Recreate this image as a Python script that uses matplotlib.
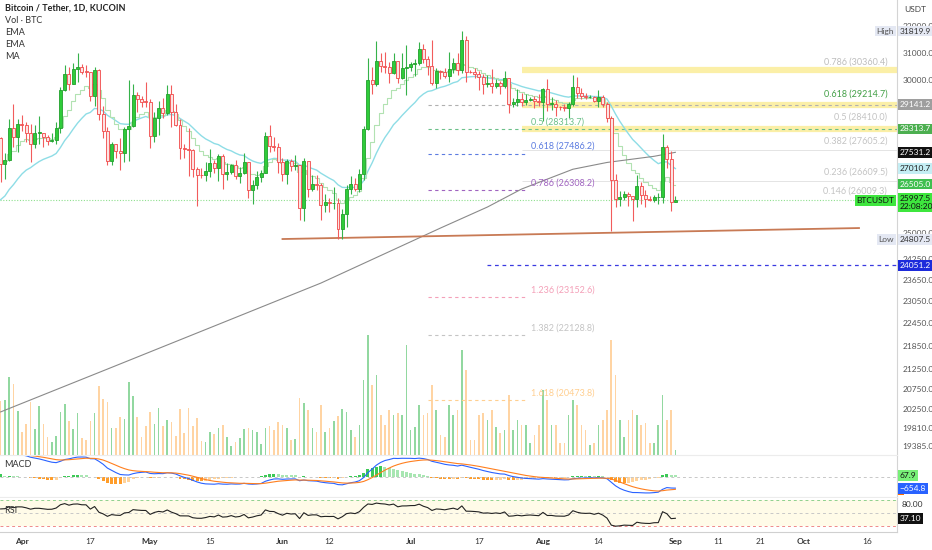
import numpy as np
import pandas as pd
import matplotlib
matplotlib.use('Agg')
import matplotlib.pyplot as plt

plt.rcParams['font.family'] = ['Lato', 'DejaVu Sans']

# BTC/USDT 1D (KuCoin). Jan 1 .. Mar 26 2023 closes only warm up the indicators
warmup_close = [16610, 16680, 16670, 16850, 16830, 16950, 16940, 17120, 17180, 17440,
                17940, 18850, 19930, 20950, 20870, 21190, 21140, 20680, 21070, 22670,
                22780, 22710, 22920, 22630, 23060, 23010, 23080, 23030, 23740, 22830, 23130,
                23730, 23490, 23430, 23330, 22930, 22760, 23260, 22960, 21800, 21630,
                21860, 21780, 21790, 22200, 24330, 23530, 24570, 24630, 24280, 24840,
                24440, 24180, 23940, 23180, 23160, 23560, 23490, 23140,
                23630, 23470, 22360, 22350, 22430, 22410, 22200, 21700, 20360, 20190,
                20630, 22160, 24200, 24750, 24380, 25050, 27420, 26970, 28040, 27770,
                28170, 27300, 28330, 27480, 27490, 27990]

start_date = '2023-03-27'
close = [27140, 27270, 28350, 28030, 28470,
         28450, 28190, 27800, 28170, 28170, 28030, 27910, 27950, 28330, 29650,
         30230, 29890, 30400, 30480, 30320, 30310, 29430, 30390, 28820, 28240,
         27260, 27820, 27590, 27510, 28300, 28420, 29470, 29340, 29250, 29230,
         28070, 28680, 29030, 28850, 29530, 28900, 28430, 27660, 27630, 27620,
         26990, 26800, 26780, 26930, 27170, 27030, 27400, 26830, 26890, 27120,
         26750, 26850, 27220, 26330, 26480, 26720, 26870, 28080, 27740, 27700, 27220,
         26820, 27250, 27070, 27120, 25760, 27240, 26340, 26500, 26480, 25850,
         25940, 25900, 25920, 25120, 25580, 26340, 26510, 26340, 26840, 28310,
         30000, 29890, 30690, 30540, 30470, 30270, 30690, 30080, 30450, 30470,
         30590, 30620, 31160, 30770, 30510, 29900, 30350, 30290, 30170, 30410,
         30620, 30380, 31470, 30310, 30290, 30230, 30140, 29860, 29910, 29800,
         29900, 29790, 30080, 29180, 29230, 29350, 29220, 29310, 29350, 29280, 29230,
         29700, 29170, 29180, 29070, 29050, 29040, 29180, 29770, 29560, 29430,
         29400, 29420, 29280, 29410, 29170, 28700, 26620, 26050, 26100, 26190,
         26120, 26040, 26430, 26160, 26050, 26010, 26090, 26100, 27720, 27300, 25930,
         25997.5]
high = [28040, 27500, 28650, 29180, 28650,
        28800, 28530, 28490, 28440, 28750, 28190, 28100, 28170, 28530, 29770,
        30550, 30490, 30620, 31000, 30600, 30550, 30320, 30480, 30410, 29090,
        28370, 27880, 27820, 28000, 28390, 30020, 29890, 29600, 29450, 29960,
        29340, 28880, 29270, 29380, 29850, 29820, 29180, 28660, 27820, 28330,
        27630, 27040, 27030, 27200, 27650, 27280, 27480, 27470, 27190, 27150,
        27270, 27050, 27500, 27220, 26630, 26930, 26940, 28200, 28450, 28050, 27840,
        27350, 27300, 27320, 27450, 27130, 27350, 27120, 26800, 26780, 26530,
        26200, 26080, 26420, 26080, 25740, 26480, 26770, 26690, 26980, 28400,
        30800, 30500, 31430, 31000, 31040, 30660, 31000, 30710, 31000, 31290,
        30660, 30790, 31400, 31320, 30880, 31500, 30450, 30390, 30440, 31040,
        30800, 30990, 31820, 31630, 30390, 30440, 30340, 30240, 30190, 30410,
        30060, 29990, 30350, 30100, 29380, 29680, 29570, 29530, 29410, 29460, 29520,
        29740, 30050, 29410, 29310, 29110, 29170, 29250, 30200, 30140, 29730,
        29540, 29480, 29460, 29670, 29470, 29230, 28760, 26840, 26290, 26280,
        26260, 26140, 26800, 26560, 26310, 26120, 26170, 26230, 28140, 27760, 27580,
        26130]
low = [26560, 26680, 27240, 27700, 27530,
       28240, 27870, 27200, 27660, 27800, 27710, 27770, 27880, 27800, 28170,
       29610, 29670, 29860, 29950, 30230, 30120, 29270, 29100, 28600, 28010,
       27130, 27130, 27350, 26940, 27200, 27240, 28380, 28880, 29060, 29080,
       27670, 27870, 28110, 28690, 28800, 28380, 28400, 27300, 27360, 26760,
       26720, 25810, 26700, 26600, 26730, 26850, 26590, 26350, 26630, 26820,
       26680, 26550, 26840, 26080, 25870, 26340, 26570, 26860, 27550, 27570, 26850,
       26600, 26510, 26920, 26960, 25400, 25360, 26110, 26290, 26310, 25400,
       25650, 25640, 25730, 24820, 24810, 25170, 26180, 26290, 26250, 26650,
       28270, 29520, 29810, 30300, 30270, 29920, 30230, 29900, 30050, 29500,
       30330, 30170, 30560, 30640, 30200, 29850, 29720, 30050, 30070, 29950,
       30270, 30200, 30250, 29960, 30250, 30070, 29660, 29520, 29760, 29570,
       29740, 29520, 29720, 28860, 29060, 29100, 29100, 29130, 29260, 29030, 29100,
       28590, 28930, 28960, 28750, 28960, 28930, 28700, 29100, 29360, 29330,
       29330, 29360, 29250, 29080, 29060, 28560, 25050, 25800, 25810, 26000,
       25810, 25350, 25800, 25870, 25780, 25980, 25960, 25880, 25920, 27020, 25660,
       25930]
# volume, thousand BTC
volume = [5.4, 5.5, 7.8, 7.1, 4.4,
          2.3, 3.1, 5.3, 2.6, 4.9, 3.1, 1.8, 1.3, 1.9, 4.3,
          5.1, 3.4, 2.6, 4.2, 1.7, 1.5, 3.4, 4.2, 6.9, 5.6,
          5.3, 2.7, 2.7, 3.8, 3.6, 7.3, 5.9, 3.8, 1.8, 2.9,
          4.3, 3.1, 4.7, 2.9, 3.5, 3.3, 1.9, 4.6, 2.2, 4.7,
          2.9, 3.7, 1.4, 1.3, 2.3, 2.1, 2.7, 3.0, 1.8, 0.9,
          1.3, 1.7, 2.6, 2.7, 2.5, 2.3, 1.1, 2.7, 2.9, 2.5, 3.3,
          3.0, 2.7, 1.5, 1.6, 5.7, 5.2, 4.5, 2.7, 2.3, 5.0,
          2.3, 2.7, 3.4, 3.9, 4.6, 4.3, 2.5, 1.8, 3.0, 7.5,
          12.0, 7.0, 8.0, 4.0, 3.0, 4.5, 4.0, 4.2, 4.0, 11.0,
          2.5, 2.8, 5.0, 4.0, 4.2, 7.0, 4.5, 2.0, 1.8, 5.0,
          4.0, 4.5, 10.5, 8.5, 1.5, 1.5, 4.0, 4.2, 3.5, 4.5,
          2.8, 2.2, 2.5, 6.0, 2.5, 3.5, 3.0, 3.0, 1.2, 2.0, 3.0,
          6.5, 5.5, 3.0, 3.0, 1.2, 1.2, 4.0, 5.5, 5.0, 3.0,
          2.5, 1.0, 1.2, 3.0, 3.5, 4.5, 11.5, 8.0, 3.5, 1.8,
          3.5, 4.5, 4.0, 3.0, 3.2, 1.2, 1.2, 3.0, 6.0, 3.5, 4.5,
          0.5]

# 200 day MA
ma_dates = ['2023-03-27', '2023-04-21', '2023-05-16', '2023-06-10', '2023-07-08', '2023-07-19',
            '2023-07-27', '2023-08-08', '2023-08-16', '2023-08-27', '2023-09-01']
ma_vals = [20190, 21250, 22370, 23550, 25150, 25790, 26350, 26980, 27200, 27400, 27531.2]

# drawings
fib1_start, fib1_end = '2023-07-05', '2023-07-28'
fib1_levels = ['0.382', '0.5', '0.618', '0.786', '1.236', '1.382', '1.618']
fib1_prices = [29141.2, 28313.7, 27486.2, 26308.2, 23152.6, 22128.8, 20473.8]
fib1_colors = ['#b0b0b0', '#6cc08a', '#5c7ce0', '#a064c0', '#f4a0b8', '#c4c4c4', '#ffcf90']
fib2_start = '2023-07-27'
fib2_levels = ['0.786', '0.618', '0.5', '0.382', '0.236', '0.146']
fib2_prices = [30360.4, 29214.7, 28410.0, 27605.2, 26609.5, 26009.3]
fib2_colors = ['#bdbdbd', '#43a047', '#c4c4c4', '#c4c4c4', '#c4c4c4', '#c4c4c4']
trend_x = ['2023-06-01', '2023-10-14']
trend_y = [24822, 25150]
hline_start, hline_price = '2023-07-19', 24051.2

tick_dates = ['2023-04-01', '2023-04-17', '2023-05-01', '2023-05-15', '2023-06-01', '2023-06-12',
              '2023-07-01', '2023-07-17', '2023-08-01', '2023-08-14', '2023-09-01', '2023-09-11',
              '2023-09-21', '2023-10-01', '2023-10-16']
tick_labels = ['Apr', '17', 'May', '15', 'Jun', '12', 'Jul', '17', 'Aug', '14', 'Sep', '11',
               '21', 'Oct', '16']
price_ticks = [32000, 31000, 30000, 25000, 24250, 23650, 23050, 22450, 21850, 21250,
               20750, 20250, 19810, 19385]


def day(d):
    return (pd.Timestamp(d) - pd.Timestamp(start_date)).days


close = np.array(close, dtype=float)
high = np.array(high, dtype=float)
low = np.array(low, dtype=float)
volume = np.array(volume)
open_ = np.r_[warmup_close[-1], close[:-1]]
n = len(close)
x = np.arange(n)
up = close >= open_

# indicators on the full close history
s = pd.Series(list(warmup_close) + list(close))
nw = len(warmup_close)
ema9 = s.ewm(span=9, adjust=False).mean().values[nw:]
ema21 = s.ewm(span=21, adjust=False).mean().values[nw:]
macd_all = s.ewm(span=12, adjust=False).mean() - s.ewm(span=26, adjust=False).mean()
signal_all = macd_all.ewm(span=9, adjust=False).mean()
macd = macd_all.values[nw:]
signal = signal_all.values[nw:]
hist = macd - signal
delta = s.diff()
gain = delta.clip(lower=0).ewm(alpha=1 / 14, adjust=False).mean()
loss = (-delta.clip(upper=0)).ewm(alpha=1 / 14, adjust=False).mean()
rsi = (100 - 100 / (1 + gain / loss)).values[nw:]

fig = plt.figure(figsize=(9.32, 5.5), dpi=100)
W = 897 / 932
ax = fig.add_axes([0, 1 - 455 / 550, W, 455 / 550])
ax_m = fig.add_axes([0, 1 - 497 / 550, W, 41 / 550], sharex=ax)
ax_r = fig.add_axes([0, 1 - 532 / 550, W, 34 / 550], sharex=ax)

xmin, xmax = -0.15, 209.9
ax.set_xlim(xmin, xmax)
ax.set_yscale('log')
ax.set_ylim(19177, 33026)

# volume behind candles
axv = ax.twinx()
axv.set_ylim(0, volume.max() * 3.8)
axv.bar(x, volume, width=0.38, color=np.where(up, '#92d8a0', '#ffd4a3'), linewidth=0)
axv.axis('off')
ax.set_zorder(axv.get_zorder() + 1)
ax.patch.set_visible(False)

# candles
ax.vlines(x, low, high, colors=np.where(up, '#36b24a', '#f25c5c'), lw=0.8, zorder=3)
body_lo = np.minimum(open_, close)
body_h = np.maximum(np.abs(close - open_), close * 0.0009)
ax.bar(x, body_h, bottom=body_lo, width=0.7, color=np.where(up, '#2fcc3a', '#fde3e3'),
       edgecolor=np.where(up, '#22a02c', '#f04848'), linewidth=0.6, zorder=4)

ax.plot(x, ema21, color='#8edde6', lw=1.0, zorder=2)
ax.plot(x, ema9, color='#b2e2b2', lw=0.8, drawstyle='steps-mid', zorder=2)
ax.plot([day(d) for d in ma_dates], ma_vals, color='#8a8a8a', lw=0.8, zorder=2)

# last price line
ax.axhline(close[-1], color='#8fe08f', lw=0.8, ls=(0, (1, 1.5)), zorder=1)

# fib drawings
f1a, f1b, f2a = day(fib1_start), day(fib1_end), day(fib2_start)
for p in [30360.4, 29141.2, 28313.7]:
    ax.hlines(p, f2a, xmax, color='#fbee9e', lw=4.5, alpha=0.9, zorder=1)
for lvl, p, c in zip(fib1_levels, fib1_prices, fib1_colors):
    end = xmax if lvl in ('0.382', '0.5') else f1b
    ax.hlines(p, f1a, end, color=c, lw=0.8, ls=(0, (3, 3)), zorder=1.5)
    if lvl != '0.382':
        ax.annotate('{} ({})'.format(lvl, p), (f1b + 1.3, p), xytext=(0, 2),
                    textcoords='offset points', fontsize=6.5, color=c, va='bottom', zorder=5)
for lvl, p, c in zip(fib2_levels, fib2_prices, fib2_colors):
    if lvl in ('0.382', '0.236'):
        ax.hlines(p, f2a, xmax, color='#e4e4e4', lw=0.7, zorder=1)
    ax.annotate('{} ({})'.format(lvl, p), (207.6, p), xytext=(0, 3),
                textcoords='offset points', fontsize=6.5, color=c, ha='right', va='bottom')

ax.plot([day(d) for d in trend_x], trend_y, color='#c87a55', lw=1.3, zorder=2)
ax.hlines(hline_price, day(hline_start), xmax, color='#3a3ae0', lw=0.9, ls=(0, (3, 3)))

# price axis
ax.yaxis.tick_right()
ax.set_yticks(price_ticks)
ax.set_yticklabels(['{:.1f}'.format(t) for t in price_ticks])
ax.yaxis.set_minor_locator(matplotlib.ticker.NullLocator())
ax.tick_params(axis='y', length=0, labelsize=6, labelcolor='#555555', pad=4)
ax.tick_params(axis='x', length=0, labelbottom=False)
for a in (ax, ax_m, ax_r):
    for sp in ('top', 'left'):
        a.spines[sp].set_visible(False)
    a.spines['right'].set_color('#d4d4d4')
    a.spines['bottom'].set_color('#ececec')
ax_r.spines['bottom'].set_color('#d0d0d0')


def tag(a, y, txt, bg, fg='white', dx=2, dy=0, ha='left', va='center'):
    a.annotate(txt, xy=(1, y), xycoords=('axes fraction', 'data'), xytext=(dx, dy),
               textcoords='offset points', ha=ha, va=va, fontsize=6, color=fg,
               bbox=dict(boxstyle='square,pad=0.22', fc=bg, ec='none'),
               annotation_clip=False, zorder=10)


tag(ax, 31819.9, '31819.9', '#e4e8f3', '#333333')
tag(ax, 31819.9, 'High', '#e4e8f3', '#555555', dx=-2, ha='right')
tag(ax, 29141.2, '29141.2', '#9e9e9e')
tag(ax, 28313.7, '28313.7', '#4caf50')
tag(ax, 27531.2, '27531.2', '#111111')
tag(ax, 27010.7, '27010.7', '#c4eef4', '#222222')
tag(ax, 26505.0, '26505.0', '#3fbf4f')
tag(ax, close[-1], '25997.5\n22:08:20', '#3ee63e', '#111111', dy=4, va='top')
tag(ax, close[-1], 'BTCUSDT', '#3ee63e', '#111111', dx=-2, ha='right')
tag(ax, 24807.5, '24807.5', '#e4e8f3', '#333333')
tag(ax, 24807.5, 'Low', '#e4e8f3', '#555555', dx=-2, ha='right')
tag(ax, hline_price, '24051.2', '#1d2bdb')

fig.text(0.005, 0.985, 'Bitcoin / Tether, 1D, KUCOIN', fontsize=6.5, fontweight='bold',
         color='#222222', va='center')
for k, t in enumerate(['Vol · BTC', 'EMA', 'EMA', 'MA']):
    fig.text(0.005, 0.963 - k * 0.0218, t, fontsize=6.5, color='#333333', va='center')
fig.text(0.982, 0.982, 'USDT', fontsize=6, color='#444444', ha='center', va='center')

# MACD pane
hist_prev = np.r_[hist[0], hist[:-1]]
hcol = np.where(hist >= 0, np.where(hist >= hist_prev, '#3cc956', '#a8e6b2'),
                np.where(hist <= hist_prev, '#ff9d2a', '#ffd39c'))
ax_m.bar(x, hist, width=0.7, color=hcol, linewidth=0)
ax_m.axhline(0, color='#c8c8c8', lw=0.7, ls=(0, (3, 3)))
ax_m.plot(x, macd, color='#2962ff', lw=0.8)
ax_m.plot(x, signal, color='#ff7f1e', lw=0.8)
ax_m.set_ylim(-1150, 1150)
ax_m.set_yticks([])
ax_m.tick_params(axis='x', length=0, labelbottom=False)
ax_m.text(0.005, 0.74, 'MACD', transform=ax_m.transAxes, fontsize=6.5, color='#333333')
tag(ax_m, -722.7, ' ', '#ff6d00')
tag(ax_m, -654.8, '−654.8', '#2962ff')
tag(ax_m, 67.9, '67.9', '#78f078', '#111111')

# RSI pane
ax_r.fill_between([xmin, xmax], 20, 80, color='#fffbe8', lw=0)
ax_r.axhline(80, color='#8fd08f', lw=0.7, ls=(0, (3, 3)))
ax_r.axhline(50, color='#c8c8c8', lw=0.7, ls=(0, (3, 3)))
ax_r.axhline(20, color='#ef8a8a', lw=0.7, ls=(0, (3, 3)))
ax_r.fill_between(x, rsi, 20, where=rsi < 20, color='#f9c6d3', interpolate=True, lw=0)
ax_r.plot(x, rsi, color='#222222', lw=0.8)
ax_r.set_ylim(5.5, 84.5)
ax_r.set_yticks([])
ax_r.text(0.005, 0.55, 'RSI', transform=ax_r.transAxes, fontsize=6.5, color='#333333')
ax_r.annotate('80.00', xy=(1, 80), xycoords=('axes fraction', 'data'), xytext=(3, -3),
              textcoords='offset points', fontsize=6, color='#333333', va='center',
              annotation_clip=False)
tag(ax_r, 37.10, '37.10', '#111111')

ax_r.set_xticks([day(d) for d in tick_dates])
ax_r.set_xticklabels(tick_labels)
ax_r.tick_params(axis='x', length=0, labelsize=6, labelcolor='#333333', pad=4)
for lab in ax_r.get_xticklabels():
    if not lab.get_text().isdigit():
        lab.set_fontweight('bold')

fig.savefig('out.png', dpi=100)
